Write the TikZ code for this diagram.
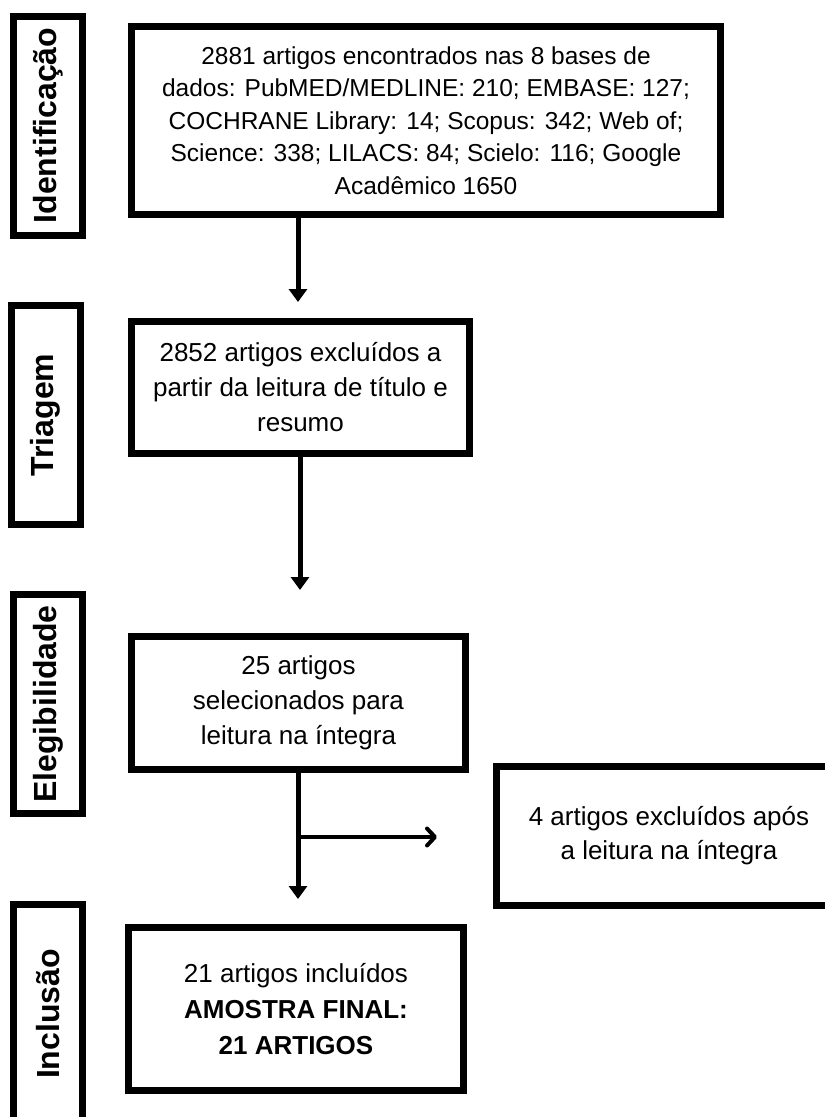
\documentclass[tikz,border=0pt]{standalone}
\usepackage{fontspec}
\setmainfont{Liberation Sans}
\usetikzlibrary{arrows.meta}
\begin{document}
\begin{tikzpicture}[x=1pt,y=-1pt,
  box/.style={draw=black, line width=7pt, inner sep=0pt, align=center,
    font=\fontsize{26pt}{35pt}\selectfont},
  phase/.style={draw=black, line width=7pt, inner sep=0pt, rotate=90,
    minimum width=219pt, minimum height=69pt,
    font=\bfseries\fontsize{32pt}{38pt}\selectfont},
  arr/.style={line width=5pt, -{Triangle[length=13pt,width=18pt]}},
  sidearr/.style={line width=4pt, line cap=round, -{Straight Barb[length=8pt,width=17pt,round]}}
]
\useasboundingbox (0,0) rectangle (825,1117);
\clip (0,0) rectangle (825,1117);

% phase labels
\node[phase] (pid) at (48,125.5) {Identificação};
\node[phase] (ptr) at (45.5,415) {Triagem};
\node[phase] (pel) at (48,704) {Elegibilidade};
\node[phase] (pin) at (48,1014) {Inclusão};

% main boxes
\node[box, minimum width=589pt, minimum height=188pt,
  font=\fontsize{24.5pt}{32.5pt}\selectfont] (ident) at (426,120.5)
  {2881 artigos encontrados nas 8 bases de\\
   dados: PubMED/MEDLINE: 210; EMBASE: 127;\\
   COCHRANE Library: 14; Scopus: 342; Web of;\\
   Science: 338; LILACS: 84; Scielo: 116; Google\\
   Acadêmico 1650};
\node[box, minimum width=338pt, minimum height=132pt] (tri) at (300.5,387.5)
  {2852 artigos excluídos a\\partir da leitura de título e\\resumo};
\node[box, minimum width=334pt, minimum height=133pt] (sel) at (298.5,703)
  {25 artigos\\selecionados para\\leitura na íntegra};
\node[box, minimum width=345pt, minimum height=139pt, font=\fontsize{26pt}{34pt}\selectfont] (exc) at (669,836)
  {4 artigos excluídos após\\a leitura na íntegra};
\node[box, minimum width=335pt, minimum height=163pt, font=\fontsize{26pt}{36pt}\selectfont] (fin) at (296,1009)
  {21 artigos incluídos\\\textbf{AMOSTRA FINAL:}\\\textbf{21 ARTIGOS}};

% connectors
\coordinate (t1) at (298,302);
\draw[arr] (ident.south -| t1) -- (t1);
\coordinate (t2) at (300,590);
\draw[arr] (tri.south -| t2) -- (t2);
\coordinate (t3) at (298,899);
\draw[arr] (sel.south -| t3) -- (t3);
\coordinate (b4) at (298,837);
\coordinate (t4) at (437,837);
\draw[sidearr] (b4) -- (t4);
\end{tikzpicture}
\end{document}
